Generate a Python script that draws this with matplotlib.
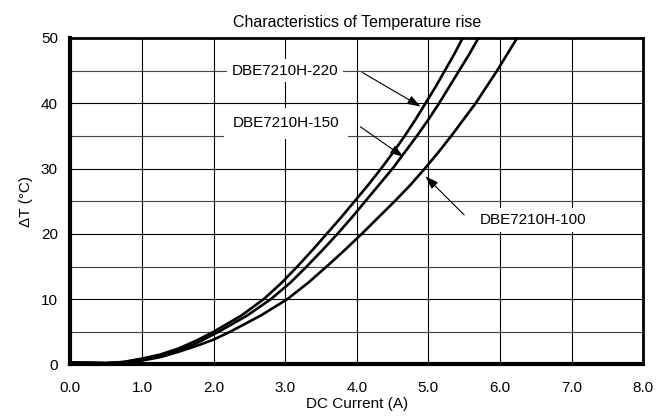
import matplotlib
matplotlib.use('Agg')
import matplotlib.pyplot as plt
from matplotlib.ticker import MultipleLocator

plt.rcParams['font.family'] = ['Liberation Sans', 'DejaVu Sans']
plt.rcParams['font.size'] = 11

# values (DC current in A, temperature rise in deg C)
x220 = [0.0, 0.5, 0.75, 1.0, 1.25, 1.5, 1.75, 2.0, 2.39, 2.70, 2.95, 3.17, 3.38, 3.58,
        3.78, 3.97, 4.16, 4.34, 4.51, 4.67, 4.82, 4.96, 5.10, 5.23, 5.36, 5.48]
y220 = [0.3, 0.2, 0.4, 0.9, 1.5, 2.4, 3.6, 5.0, 7.5, 10.0, 12.5, 15.0, 17.5, 20.0,
        22.5, 25.0, 27.5, 30.0, 32.5, 35.0, 37.5, 40.0, 42.5, 45.0, 47.5, 50.0]
x150 = [0.0, 0.5, 0.75, 1.0, 1.25, 1.5, 1.75, 2.07, 2.47, 2.80, 3.07, 3.30, 3.52, 3.73,
        3.93, 4.12, 4.31, 4.50, 4.67, 4.84, 5.00, 5.15, 5.29, 5.43, 5.57, 5.70]
y150 = [0.3, 0.2, 0.35, 0.8, 1.3, 2.1, 3.2, 5.0, 7.5, 10.0, 12.5, 15.0, 17.5, 20.0,
        22.5, 25.0, 27.5, 30.0, 32.5, 35.0, 37.5, 40.0, 42.5, 45.0, 47.5, 50.0]
x100 = [0.0, 0.5, 0.75, 1.0, 1.25, 1.5, 1.75, 2.0, 2.23, 2.66, 3.03, 3.32, 3.58, 3.83,
        4.07, 4.30, 4.53, 4.75, 4.95, 5.14, 5.32, 5.49, 5.66, 5.81, 5.96, 6.10, 6.24]
y100 = [0.3, 0.2, 0.3, 0.6, 1.1, 1.9, 2.8, 3.8, 5.0, 7.5, 10.0, 12.5, 15.0, 17.5,
        20.0, 22.5, 25.0, 27.5, 30.0, 32.5, 35.0, 37.5, 40.0, 42.5, 45.0, 47.5, 50.0]

labels = ['DBE7210H-220', 'DBE7210H-150', 'DBE7210H-100']
label_pos = [(3.00, 45.0), (3.01, 36.9), (6.46, 22.1)]
arrow_from = [(4.08, 44.7), (4.05, 36.4), (5.50, 22.9)]
arrow_to = [(4.89, 39.5), (4.65, 31.8), (4.96, 28.8)]
label_pad = [3.5, 6, 3.5]

fig = plt.figure(figsize=(6.7, 4.17), dpi=100)
ax = fig.add_axes([0.105, 0.126, 0.855, 0.783])

for xs, ys in [(x220, y220), (x150, y150), (x100, y100)]:
    ax.plot(xs, ys, color='black', lw=1.9, zorder=3, solid_joinstyle='round')

ax.set_xlim(0, 8)
ax.set_ylim(0, 50)
ax.xaxis.set_major_locator(MultipleLocator(1))
ax.yaxis.set_major_locator(MultipleLocator(10))
ax.yaxis.set_minor_locator(MultipleLocator(5))
ax.set_xticklabels(['%.1f' % v for v in ax.get_xticks()])
ax.grid(which='major', color='black', lw=0.8)
ax.grid(which='minor', axis='y', color='#444444', lw=0.8)
ax.tick_params(which='both', length=0)
ax.tick_params(axis='x', pad=12)
ax.tick_params(axis='y', pad=9)

for side in ['left', 'bottom']:
    ax.spines[side].set_linewidth(3)
for side in ['top', 'right']:
    ax.spines[side].set_linewidth(2)

for lab, (tx, ty), st, tip, pd in zip(labels, label_pos, arrow_from, arrow_to, label_pad):
    ax.text(tx, ty, lab, ha='center', va='center', zorder=4,
            bbox=dict(facecolor='white', edgecolor='none', pad=pd))
    ax.annotate('', xy=tip, xytext=st, zorder=5,
                arrowprops=dict(arrowstyle='-|>,head_length=0.72,head_width=0.25',
                                color='black', lw=0.8, shrinkA=0, shrinkB=0))

ax.set_title('Characteristics of Temperature rise', fontsize=11.5, pad=8)
ax.set_xlabel('DC Current (A)', labelpad=1)
ax.set_ylabel('ΔT (°C)', labelpad=6)

fig.savefig('out.png', dpi=100)
